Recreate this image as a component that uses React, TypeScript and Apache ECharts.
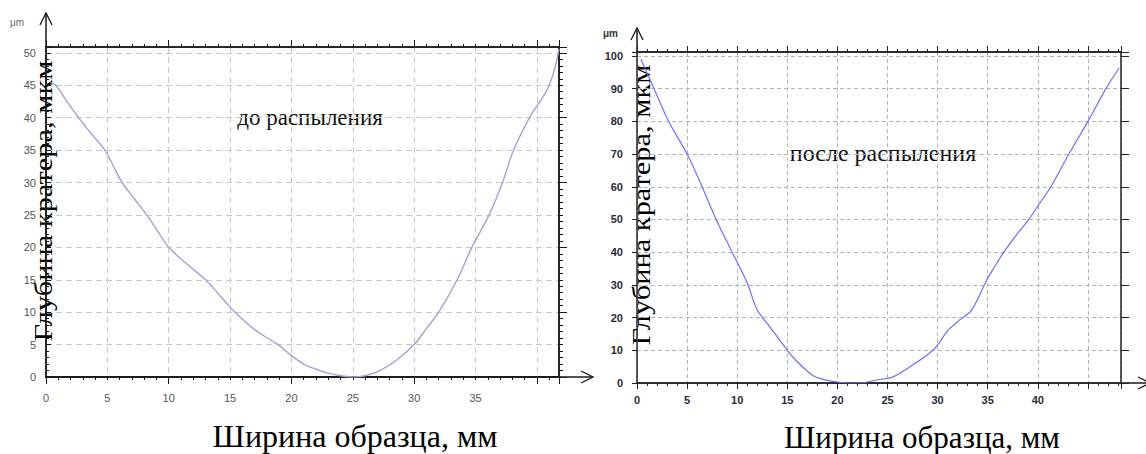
import React, { useEffect, useRef } from "react";
import * as echarts from "echarts";

// ---- data: "до распыления" (left panel) ----
const X_BEFORE = [0.35, 0.8, 1.7, 2.65, 3.7, 4.8, 5.5, 6.2, 7.2, 8.2, 9.1, 10, 11.5, 13, 14.2, 15.4, 17, 18.9, 20, 21, 22, 23, 24, 25, 26, 27.2, 28.5, 30, 31, 32, 33.5, 34.7, 36.1, 37.2, 38.1, 39.4, 41.0, 41.8];
const Y_BEFORE = [45.4, 45, 42.5, 40, 37.5, 35, 32.5, 30, 27.5, 25, 22.5, 20, 17.4, 15, 12.5, 10, 7.3, 5, 3.3, 2, 1.2, 0.6, 0.2, 0, 0.2, 1, 2.5, 5, 7.5, 10, 15, 20, 25, 30, 35, 40, 45, 50.6];

// ---- data: "после распыления" (right panel) ----
const X_AFTER = [0.4, 1.7, 3.15, 5, 6.5, 7.9, 9.3, 11, 12, 13.3, 15, 16, 17.5, 18.5, 20, 21, 22, 23, 24, 25.5, 27.5, 29.2, 30, 31, 32.2, 33.4, 34.9, 35.6, 36.6, 37.8, 39.1, 40.2, 41.3, 43.1, 45, 46.8, 48.1];
const Y_AFTER = [99, 90, 80, 70, 60, 50, 41.2, 30.6, 22.3, 17, 10, 6.5, 2.4, 1.2, 0.3, 0, 0, 0.3, 1, 1.8, 5.5, 9.2, 11.6, 16, 19.3, 22.3, 31.5, 35.1, 40, 45, 50, 55, 60, 70, 80, 90, 96.3];

// ---- tick labels ----
const LEFT_X_LABELS = [0, 5, 10, 15, 20, 25, 30, 35];
const LEFT_Y_LABELS = [0, 5, 10, 15, 20, 25, 30, 35, 40, 45, 50];
const RIGHT_X_LABELS = [0, 5, 10, 15, 20, 25, 30, 35, 40];
const RIGHT_Y_LABELS = [0, 10, 20, 30, 40, 50, 60, 70, 80, 90, 100];

const X_TITLE = "Ширина образца, мм";
const Y_TITLE = "Глубина кратера, мкм";
const NOTE_BEFORE = "до распыления";
const NOTE_AFTER = "после распыления";
const UNIT = "μm";

const LX_MAX = 41.8, LY_MAX = 50.9, RX_MAX = 48.3, RY_MAX = 101.2;
const LG = { left: 46, top: 47, width: 513, height: 330 };
const RG = { left: 637, top: 52, width: 484, height: 331 };

const SERIF = "'Liberation Serif', 'Times New Roman', serif";
const SANS = "'Liberation Sans', Arial, sans-serif";

function tickAxis(gridIndex: number, position: string, max: number, interval: number, len: number, inside: boolean, color: string, show = true) {
  return {
    type: "value", gridIndex, position, min: 0, max, interval, show,
    axisLine: { show: true, onZero: false, lineStyle: { color, width: 1.5 } },
    axisTick: { show: true, inside, length: len, lineStyle: { color, width: 1 } },
    axisLabel: { show: false },
    splitLine: { show: false },
  };
}

function arrowUp(x: number, y0: number, y1: number) {
  return [
    { type: "line", shape: { x1: x, y1: y0, x2: x, y2: y1 }, style: { stroke: "#1a1a1a", lineWidth: 1.5 } },
    { type: "polyline", shape: { points: [[x - 6, y1 + 12], [x, y1], [x + 6, y1 + 12]] }, style: { stroke: "#1a1a1a", lineWidth: 1.3, fill: null } },
  ];
}
function arrowRight(y: number, x0: number, x1: number) {
  return [
    { type: "line", shape: { x1: x0, y1: y, x2: x1, y2: y }, style: { stroke: "#1a1a1a", lineWidth: 1.5 } },
    { type: "polyline", shape: { points: [[x1 - 12, y - 6], [x1, y], [x1 - 12, y + 6]] }, style: { stroke: "#1a1a1a", lineWidth: 1.3, fill: null } },
  ];
}

export default function App() {
  const ref = useRef<HTMLDivElement>(null);
  useEffect(() => {
    if (!ref.current) return;
    const chart = echarts.init(ref.current, undefined, { renderer: "svg" });
    const leftAxisColor = "#1a1a1a";
    const rightAxisColor = "#222";
    const gridL = () => ({ ...LG, show: false });
    const gridR = () => ({ ...RG, show: false });

    const option: any = {
      animation: false,
      backgroundColor: "#ffffff",
      grid: [gridL(), gridL(), gridL(), gridR(), gridR()],
      xAxis: [
        // left panel
        {
          type: "value", gridIndex: 0, position: "bottom", min: 0, max: LX_MAX, interval: 5,
          axisLine: { show: true, onZero: false, lineStyle: { color: leftAxisColor, width: 1.5 } },
          axisTick: { show: false },
          axisLabel: { show: true, margin: 15, color: "#555", fontFamily: SANS, fontSize: 11,
            formatter: (v: number) => (LEFT_X_LABELS.includes(v) ? String(v) : "") },
          splitLine: { show: true, lineStyle: { color: "#c8c8c8", type: [6, 4], width: 1 } },
        },
        tickAxis(0, "top", LX_MAX, 1, 3, false, leftAxisColor),
        tickAxis(1, "bottom", LX_MAX, 1, 3, false, leftAxisColor),
        tickAxis(1, "top", LX_MAX, 10, 7, false, leftAxisColor),
        tickAxis(2, "bottom", LX_MAX, 10, 7, false, leftAxisColor),
        // right panel
        {
          type: "value", gridIndex: 3, position: "bottom", min: 0, max: RX_MAX, interval: 5,
          axisLine: { show: true, onZero: false, lineStyle: { color: rightAxisColor, width: 1.5 } },
          axisTick: { show: true, length: 6, lineStyle: { color: rightAxisColor, width: 1 } },
          axisLabel: { show: true, margin: 11, color: "#2a2a3a", fontWeight: "bold", fontFamily: SANS, fontSize: 11,
            formatter: (v: number) => (RIGHT_X_LABELS.includes(v) ? String(v) : "") },
          splitLine: { show: true, lineStyle: { color: "#b4b4b4", type: [4, 3], width: 1 } },
        },
        tickAxis(3, "top", RX_MAX, 5, 6, false, rightAxisColor),
        tickAxis(4, "bottom", RX_MAX, 1, 3, false, rightAxisColor),
        tickAxis(4, "top", RX_MAX, 1, 3, false, rightAxisColor),
      ],
      yAxis: [
        // left panel
        {
          type: "value", gridIndex: 0, position: "left", min: 0, max: LY_MAX, interval: 5,
          axisLine: { show: true, onZero: false, lineStyle: { color: leftAxisColor, width: 1.5 } },
          axisTick: { show: true, inside: true, length: 5, lineStyle: { color: leftAxisColor, width: 1 } },
          axisLabel: { show: true, margin: 10, color: "#555", fontFamily: SANS, fontSize: 11,
            formatter: (v: number) => (LEFT_Y_LABELS.includes(v) ? String(v) : "") },
          splitLine: { show: true, lineStyle: { color: "#c8c8c8", type: [6, 4], width: 1 } },
        },
        tickAxis(0, "right", LY_MAX, 10, 8, false, leftAxisColor),
        tickAxis(1, "left", LY_MAX, 1, 3, true, leftAxisColor),
        tickAxis(1, "right", LY_MAX, 1, 4, false, leftAxisColor),
        tickAxis(2, "left", LY_MAX, 10, 3, true, leftAxisColor, false),
        // right panel
        {
          type: "value", gridIndex: 3, position: "left", min: 0, max: RY_MAX, interval: 10,
          axisLine: { show: true, onZero: false, lineStyle: { color: rightAxisColor, width: 1.5 } },
          axisTick: { show: true, length: 5, lineStyle: { color: rightAxisColor, width: 1 } },
          axisLabel: { show: true, margin: 14, color: "#2a2a3a", fontWeight: "bold", fontFamily: SANS, fontSize: 11,
            formatter: (v: number) => (RIGHT_Y_LABELS.includes(v) ? String(v) : "") },
          splitLine: { show: true, lineStyle: { color: "#b4b4b4", type: [4, 3], width: 1 } },
        },
        tickAxis(3, "right", RY_MAX, 10, 8, false, rightAxisColor),
        tickAxis(4, "left", RY_MAX, 10, 3, false, rightAxisColor, false),
      ],
      series: [
        {
          type: "line", xAxisIndex: 0, yAxisIndex: 0, showSymbol: false, smooth: 0.4,
          data: X_BEFORE.map((x, i) => [x, Y_BEFORE[i]]),
          lineStyle: { color: "#a2a2d6", width: 1.4 }, z: 5,
        },
        {
          type: "line", xAxisIndex: 5, yAxisIndex: 5, showSymbol: false, smooth: 0.3,
          data: X_AFTER.map((x, i) => [x, Y_AFTER[i]]),
          lineStyle: { color: "#6f6fff", width: 1.2 }, z: 5,
        },
      ],
      graphic: [
        ...arrowUp(46, 47, 13),
        ...arrowRight(377, 559, 593),
        ...arrowUp(637, 52, 28),
        ...arrowRight(383, 1121, 1150),
        { type: "text", x: 10, y: 22, style: { text: UNIT, font: `10px ${SANS}`, fill: "#666", verticalAlign: "middle" } },
        { type: "text", x: 603, y: 33, style: { text: UNIT, font: `bold 10px ${SANS}`, fill: "#333", verticalAlign: "middle" } },
        { type: "text", x: 310, y: 117, style: { text: NOTE_BEFORE, font: `23px ${SERIF}`, fill: "#111", align: "center", verticalAlign: "middle" } },
        { type: "text", x: 883, y: 153, style: { text: NOTE_AFTER, font: `24px ${SERIF}`, fill: "#111", align: "center", verticalAlign: "middle" } },
        { type: "text", x: 355, y: 436, style: { text: X_TITLE, font: `32px ${SERIF}`, fill: "#000", align: "center", verticalAlign: "middle" } },
        { type: "text", x: 922, y: 437, style: { text: X_TITLE, font: `31px ${SERIF}`, fill: "#000", align: "center", verticalAlign: "middle" } },
        { type: "text", x: 43, y: 201, rotation: Math.PI / 2, scaleX: 1.17, style: { text: Y_TITLE, font: `26px ${SERIF}`, fill: "#000", align: "center", verticalAlign: "middle" } },
        { type: "text", x: 641, y: 205, rotation: Math.PI / 2, scaleX: 1.17, style: { text: Y_TITLE, font: `26px ${SERIF}`, fill: "#000", align: "center", verticalAlign: "middle" } },
      ],
    };
    chart.setOption(option);
    return () => chart.dispose();
  }, []);
  return <div ref={ref} style={{ position: "fixed", left: 0, top: 0, width: 1146, height: 454, background: "#fff" }} />;
}
